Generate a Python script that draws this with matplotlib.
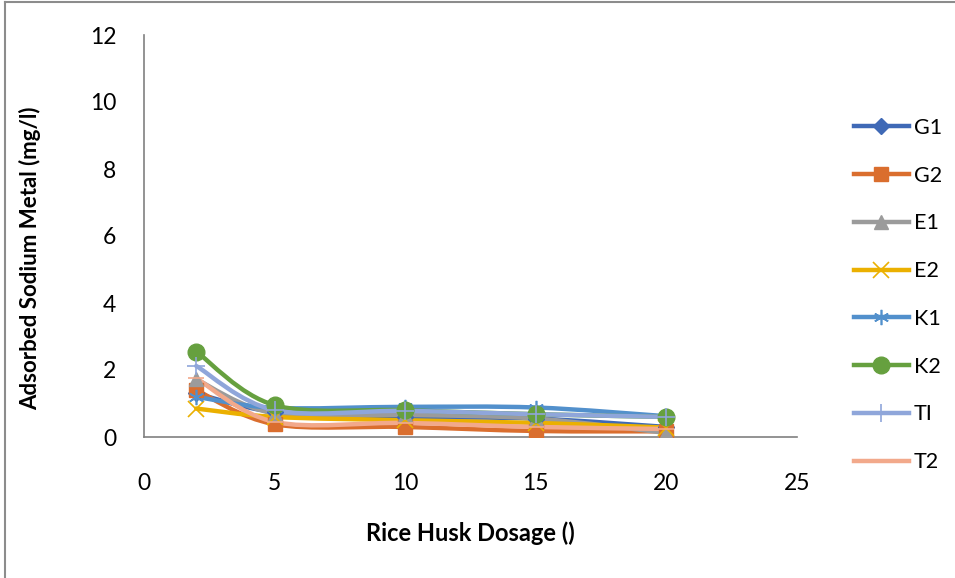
import matplotlib
matplotlib.use("Agg")
import matplotlib.pyplot as plt
from matplotlib.path import Path
from matplotlib.patches import PathPatch
from matplotlib.lines import Line2D
import numpy as np

plt.rcParams['font.family'] = ['Lato', 'DejaVu Sans']

# Rice husk dosage and adsorbed sodium for each sample
dosage = [2, 5, 10, 15, 20]
series_names = ["G1", "G2", "E1", "E2", "K1", "K2", "TI", "T2"]
G1 = [1.30, 0.75, 0.60, 0.55, 0.30]
G2 = [1.40, 0.38, 0.30, 0.18, 0.17]
E1 = [1.72, 0.70, 0.66, 0.55, 0.12]
E2 = [0.85, 0.60, 0.50, 0.42, 0.28]
K1 = [1.20, 0.87, 0.90, 0.88, 0.62]
K2 = [2.55, 0.95, 0.80, 0.68, 0.60]
TI = [2.12, 0.80, 0.78, 0.68, 0.60]
T2 = [1.75, 0.45, 0.42, 0.30, 0.24]
values = [G1, G2, E1, E2, K1, K2, TI, T2]

colors = ["#3F69B6", "#DA6E2E", "#9B9B9B", "#EBB000",
          "#5290CC", "#66A03F", "#8FA6DA", "#F2A98B"]
markers = ["D", "s", "^", "x", (6, 2, 0), "o", "+", "_"]
msizes = [8, 10, 10, 11, 11, 12, 13, 11]

W, H = 955, 578
fig = plt.figure(figsize=(W / 100, H / 100), dpi=100)

# chart area border (top and left edges)
fig.add_artist(Line2D([5 / W, 5 / W], [0, 1 - 2 / H], color="#8c8c8c", lw=1.5))
fig.add_artist(Line2D([5 / W, 1], [1 - 2 / H, 1 - 2 / H], color="#8c8c8c", lw=1.5))

ax = fig.add_axes([144 / W, 1 - 437 / H, (797 - 144) / W, (437 - 35) / H])
ax.set_xlim(0, 25)
ax.set_ylim(0, 12)


def smooth_path(xs, ys):
    """Cubic Bezier through the points with Catmull-Rom style tangents."""
    pts = np.column_stack([xs, ys]).astype(float)
    n = len(pts)
    verts = [pts[0]]
    codes = [Path.MOVETO]
    for i in range(n - 1):
        p0 = pts[i - 1] if i > 0 else pts[i]
        p1 = pts[i]
        p2 = pts[i + 1]
        p3 = pts[i + 2] if i + 2 < n else pts[i + 1]
        c1 = p1 + (p2 - p0) / 6.0
        c2 = p2 - (p3 - p1) / 6.0
        verts += [c1, c2, p2]
        codes += [Path.CURVE4] * 3
    return Path(verts, codes)


handles = []
for name, vals, c, m, ms in zip(series_names, values, colors, markers, msizes):
    patch = PathPatch(smooth_path(dosage, vals), facecolor="none", edgecolor=c,
                      lw=3.2, capstyle="round", joinstyle="round", zorder=2)
    ax.add_patch(patch)
    mew = 1.2 if m in ("x", "+", "_") or isinstance(m, tuple) else 1.0
    ax.plot(dosage, vals, linestyle="none", marker=m, markersize=ms,
            color=c, markeredgecolor=c, markeredgewidth=mew, zorder=3)
    handles.append(Line2D([], [], color=c, lw=3.2, marker=m, markersize=ms,
                          markeredgecolor=c, markeredgewidth=mew, label=name))

ax.set_xticks([0, 5, 10, 15, 20, 25])
ax.set_yticks([0, 2, 4, 6, 8, 10, 12])
ax.tick_params(length=0, labelsize=16.5, colors="black")
ax.tick_params(axis="y", pad=20)
ax.tick_params(axis="x", pad=26)
for side in ("top", "right"):
    ax.spines[side].set_visible(False)
for side in ("left", "bottom"):
    ax.spines[side].set_color("#808080")
    ax.spines[side].set_linewidth(1.2)

fig.text(470 / W, 1 - 533 / H, "Rice Husk Dosage ()", fontsize=17,
         fontweight="bold", ha="center", va="center")
fig.text(30 / W, 1 - 258 / H, "Adsorbed Sodium Metal (mg/l)", fontsize=16,
         fontweight="bold", ha="center", va="center", rotation=90)

fig.legend(handles=handles, loc="upper left",
           bbox_to_anchor=(843 / W, 1 - 107 / H), frameon=False,
           fontsize=15.5, handlelength=2.55, handletextpad=0.25,
           labelspacing=1.29, borderpad=0)

fig.savefig("out.png", dpi=100)
